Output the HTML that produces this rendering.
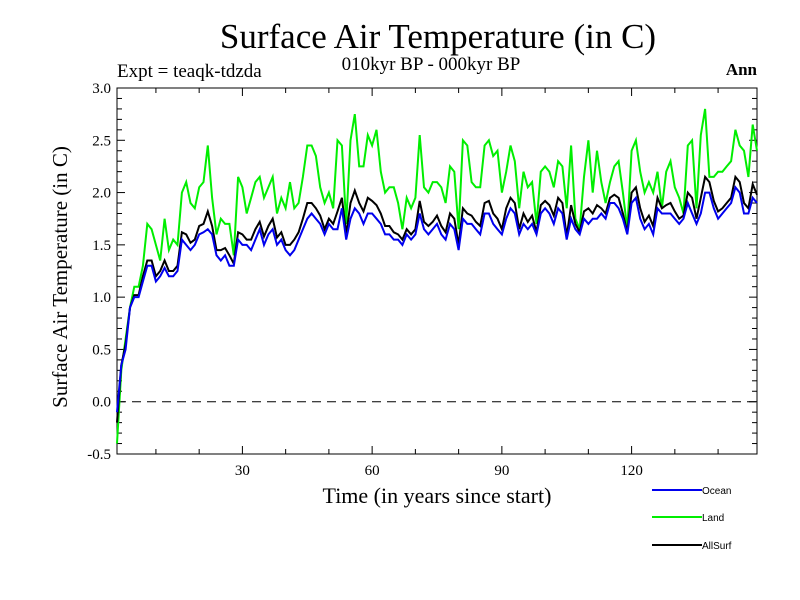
<!DOCTYPE html>
<html><head><meta charset="utf-8">
<style>
html,body{margin:0;padding:0;background:#fff;}
svg{display:block;}
text{font-family:"Liberation Serif",serif;fill:#000;}
</style></head>
<body>
<svg id="chart" width="800" height="600" viewBox="0 0 800 600">
<text x="438" y="48" font-size="35" text-anchor="middle">Surface Air Temperature (in C)</text>
<text x="117" y="77" font-size="19">Expt = teaqk-tdzda</text>
<text x="431" y="70" font-size="19" text-anchor="middle">010kyr BP - 000kyr BP</text>
<text x="757" y="75" font-size="17" font-weight="bold" text-anchor="end">Ann</text>
<text x="437" y="503" font-size="22" text-anchor="middle">Time (in years since start)</text>
<text transform="translate(67,277) rotate(-90)" font-size="21" text-anchor="middle">Surface Air Temperature (in C)</text>
<g id="axes"></g>
<g id="series"></g>
<g id="legend"></g>
</svg>
<script>
const years = [];
for (let i = 1; i <= 149; i++) years.push(i);
const yTicks = [-0.5,0.0,0.5,1.0,1.5,2.0,2.5,3.0];
const yTickLabels = ["-0.5","0.0","0.5","1.0","1.5","2.0","2.5","3.0"];
const xTicks = [30,60,90,120];
const xTickLabels = ["30","60","90","120"];
const ocean = [-0.1,0.35,0.5,0.9,1.0,1.0,1.15,1.3,1.3,1.15,1.2,1.28,1.2,1.2,1.25,1.55,1.5,1.45,1.5,1.6,1.62,1.65,1.6,1.4,1.35,1.4,1.3,1.3,1.55,1.5,1.5,1.45,1.55,1.65,1.5,1.6,1.65,1.5,1.55,1.45,1.4,1.45,1.55,1.65,1.75,1.8,1.75,1.7,1.6,1.7,1.65,1.65,1.85,1.55,1.75,1.85,1.8,1.7,1.8,1.8,1.75,1.7,1.6,1.6,1.55,1.55,1.5,1.6,1.55,1.6,1.8,1.65,1.6,1.65,1.7,1.6,1.55,1.7,1.65,1.45,1.75,1.7,1.7,1.65,1.6,1.8,1.8,1.7,1.65,1.6,1.75,1.85,1.8,1.6,1.7,1.65,1.7,1.6,1.8,1.85,1.8,1.7,1.85,1.8,1.55,1.75,1.65,1.6,1.75,1.7,1.75,1.75,1.8,1.75,1.9,1.9,1.85,1.75,1.6,1.9,1.95,1.75,1.65,1.7,1.6,1.85,1.8,1.8,1.8,1.75,1.7,1.75,1.9,1.8,1.7,1.8,2.0,2.0,1.85,1.75,1.8,1.85,1.9,2.05,2.0,1.8,1.8,1.95,1.9];
const land = [-0.4,0.3,0.6,0.9,1.1,1.1,1.3,1.7,1.65,1.5,1.35,1.75,1.45,1.55,1.5,2.0,2.1,1.9,1.85,2.05,2.1,2.45,1.95,1.6,1.75,1.7,1.7,1.4,2.15,2.05,1.8,1.95,2.1,2.15,1.95,2.05,2.15,1.8,1.95,1.85,2.1,1.85,1.9,2.15,2.45,2.45,2.35,2.05,1.9,2.0,1.85,2.5,2.45,1.7,2.5,2.75,2.25,2.25,2.55,2.45,2.6,2.2,2.0,2.05,2.05,1.9,1.65,1.95,1.85,1.95,2.55,2.05,2.0,2.1,2.1,2.05,1.9,2.25,2.2,1.65,2.5,2.45,2.1,2.05,2.05,2.45,2.5,2.35,2.4,2.0,2.2,2.45,2.3,1.85,2.2,2.05,2.1,1.7,2.2,2.25,2.2,2.05,2.3,2.25,1.85,2.45,1.75,1.65,2.15,2.5,2.0,2.4,2.1,1.9,2.1,2.25,2.3,2.0,1.65,2.4,2.5,2.2,2.0,2.1,2.0,2.2,1.85,2.2,2.3,2.05,1.95,1.8,2.45,2.5,1.85,2.55,2.8,2.15,2.15,2.2,2.2,2.25,2.3,2.6,2.45,2.4,2.15,2.65,2.4];
const allsurf = [-0.2,0.35,0.55,0.9,1.02,1.02,1.2,1.35,1.35,1.2,1.25,1.35,1.25,1.25,1.3,1.62,1.6,1.52,1.55,1.68,1.7,1.82,1.68,1.45,1.45,1.47,1.4,1.32,1.62,1.6,1.55,1.55,1.65,1.72,1.58,1.68,1.75,1.57,1.62,1.5,1.5,1.55,1.62,1.75,1.9,1.9,1.85,1.78,1.65,1.75,1.7,1.82,1.95,1.6,1.9,2.02,1.9,1.82,1.95,1.92,1.88,1.8,1.68,1.68,1.62,1.6,1.55,1.65,1.6,1.65,1.92,1.72,1.68,1.72,1.78,1.68,1.62,1.8,1.75,1.5,1.85,1.8,1.78,1.72,1.68,1.9,1.92,1.8,1.75,1.65,1.85,1.95,1.9,1.65,1.8,1.72,1.78,1.62,1.88,1.92,1.88,1.78,1.95,1.9,1.58,1.88,1.7,1.62,1.82,1.85,1.8,1.88,1.85,1.8,1.95,1.98,1.95,1.8,1.62,2.0,2.05,1.85,1.72,1.78,1.68,1.95,1.85,1.88,1.9,1.82,1.75,1.78,2.0,1.95,1.75,1.95,2.15,2.1,1.92,1.82,1.85,1.9,1.95,2.15,2.1,1.9,1.85,2.08,1.98];

const X0=117,X1=757,Y0=88,Y1=454;
const xMin=1,xMax=149,yMin=-0.5,yMax=3.0;
function xs(v){return X0+(v-xMin)/(xMax-xMin)*(X1-X0);}
function ys(v){return Y1-(v-yMin)/(yMax-yMin)*(Y1-Y0);}
const NS="http://www.w3.org/2000/svg";
function mk(tag,attrs,parent){const e=document.createElementNS(NS,tag);for(const k in attrs)e.setAttribute(k,attrs[k]);parent.appendChild(e);return e;}

const axes=document.getElementById('axes');
const frame=mk('rect',{x:X0,y:Y0,width:X1-X0,height:Y1-Y0,fill:'none',stroke:'#000','stroke-width':1},axes);


for(let i=0;i<=35;i++){
  const v=yMin+i*0.1; const y=ys(v); const major=(i%5===0); const len=major?8:5;
  const t1=mk('line',{x1:X0,y1:y,x2:X0+len,y2:y,stroke:'#000','stroke-width':1},axes);
  
  
  const t2=mk('line',{x1:X1-len,y1:y,x2:X1,y2:y,stroke:'#000','stroke-width':1},axes);
  
  
}
yTicks.forEach((v,i)=>{
  const t=mk('text',{x:X0-6,y:ys(v)+5,'font-size':15,'text-anchor':'end'},axes);
  t.textContent=yTickLabels[i];
  
  
});
for(let v=10;v<=140;v+=10){
  const x=xs(v); const major=(v%30===0); const len=major?8:5;
  const t1=mk('line',{x1:x,y1:Y1,x2:x,y2:Y1-len,stroke:'#000','stroke-width':1},axes);
  
  
  const t2=mk('line',{x1:x,y1:Y0,x2:x,y2:Y0+len,stroke:'#000','stroke-width':1},axes);
  
  
}
xTicks.forEach((v,i)=>{
  const t=mk('text',{x:xs(v),y:Y1+21,'font-size':15,'text-anchor':'middle'},axes);
  t.textContent=xTickLabels[i];
  
  
});
const zl=mk('line',{x1:X0,y1:ys(0),x2:X1,y2:ys(0),stroke:'#000','stroke-width':1,'stroke-dasharray':'9,6'},axes);



const series=document.getElementById('series');
function drawLine(vals,color,name){
  const pts=vals.map((v,i)=>xs(years[i]).toFixed(1)+','+ys(v).toFixed(1)).join(' ');
  const p=mk('polyline',{points:pts,fill:'none',stroke:color,'stroke-width':2},series);
  
  
}
drawLine(land,'#00ee00','land-line');
drawLine(allsurf,'#000000','allsurf-line');
drawLine(ocean,'#0000ee','ocean-line');

const legend=document.getElementById('legend');
const items=[['Ocean','#0000ee',490],['Land','#00ee00',517],['AllSurf','#000000',545]];
items.forEach(it=>{
  const l=mk('line',{x1:652,y1:it[2],x2:702,y2:it[2],stroke:it[1],'stroke-width':2},legend);
  
  
  const t=mk('text',{x:702,y:it[2]+4,'font-size':10},legend);
  t.setAttribute('style','font-family:"Liberation Sans",sans-serif');
  t.textContent=it[0];
  
  
});
</script>
</body></html>
